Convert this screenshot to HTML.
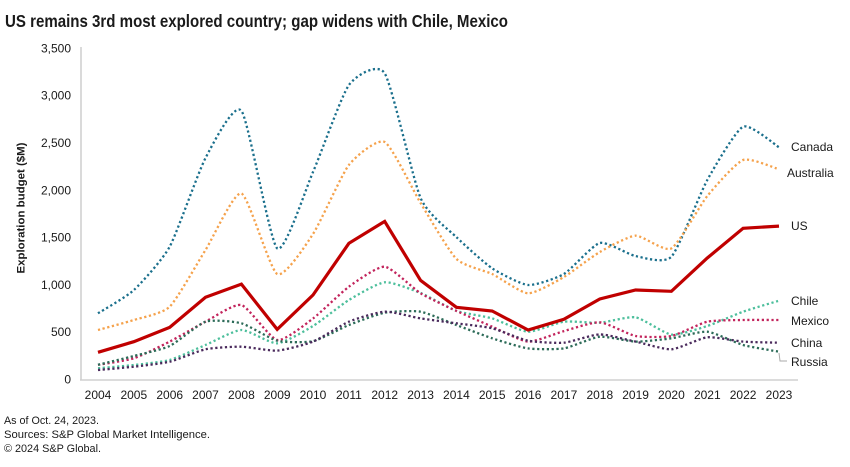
<!DOCTYPE html>
<html>
<head>
<meta charset="utf-8">
<style>
html,body{margin:0;padding:0;background:#fff;}
svg{display:block;}
text{font-family:"Liberation Sans",Arial,sans-serif;fill:#1a1a1a;}
</style>
</head>
<body>
<svg id="c" width="850" height="467" viewBox="0 0 850 467" xmlns="http://www.w3.org/2000/svg">
<rect width="850" height="467" fill="#fff"/>
<text x="5" y="27" font-size="17.5" font-weight="bold" textLength="503" lengthAdjust="spacingAndGlyphs">US remains 3rd most explored country; gap widens with Chile, Mexico</text>

<!-- axes -->
<line x1="81" y1="47" x2="81" y2="380" stroke="#d0d0d0" stroke-width="1.6"/>
<line x1="80" y1="380" x2="798" y2="380" stroke="#d0d0d0" stroke-width="1.6"/>

<!-- y tick labels -->
<g font-size="12" text-anchor="end">
<text x="71" y="383.5">0</text>
<text x="71" y="336.2">500</text>
<text x="71" y="288.9">1,000</text>
<text x="71" y="241.6">1,500</text>
<text x="71" y="194.3">2,000</text>
<text x="71" y="147">2,500</text>
<text x="71" y="99.7">3,000</text>
<text x="71" y="52.5">3,500</text>
</g>

<text transform="translate(24.5,208) rotate(-90)" font-size="11" font-weight="bold" text-anchor="middle" textLength="131" lengthAdjust="spacingAndGlyphs">Exploration budget ($M)</text>

<g id="xl" font-size="12" text-anchor="middle"></g>
<g id="series"></g>

<!-- Russia leader -->
<polyline points="779,353 780,361 787,361" fill="none" stroke="#aaaaaa" stroke-width="1"/>

<!-- legend labels -->
<g font-size="12">
<text x="791" y="151">Canada</text>
<text x="787" y="177">Australia</text>
<text x="791" y="230">US</text>
<text x="791" y="305">Chile</text>
<text x="791" y="325">Mexico</text>
<text x="791" y="347">China</text>
<text x="791" y="366">Russia</text>
</g>

<!-- footer -->
<g font-size="11">
<text x="4" y="424" textLength="95" lengthAdjust="spacingAndGlyphs">As of Oct. 24, 2023.</text>
<text x="4" y="438" textLength="206" lengthAdjust="spacingAndGlyphs">Sources: S&amp;P Global Market Intelligence.</text>
<text x="4" y="452" textLength="97" lengthAdjust="spacingAndGlyphs">© 2024 S&amp;P Global.</text>
</g>
</svg>
<script>
(function(){
var NS="http://www.w3.org/2000/svg";
function X(i){return 98+i*35.84;}
function Y(v){return 379-v*0.09457;}
var xl=document.getElementById('xl');
for(var i=0;i<20;i++){
  var t=document.createElementNS(NS,'text');
  t.setAttribute('x',X(i).toFixed(1));t.setAttribute('y','399');
  t.textContent=String(2004+i);xl.appendChild(t);
}
var data=[
 ["#1a6f8c",[695,940,1399,2337,2837,1381,2189,3108,3232,1914,1500,1170,994,1110,1438,1300,1293,2104,2668,2450],true],
 ["#f5a24c",[518,624,765,1364,1963,1110,1533,2263,2506,1861,1270,1110,906,1079,1343,1515,1381,1935,2316,2217],true],
 ["#4dbf9c",[113,148,201,360,518,377,560,835,1022,909,720,641,500,606,595,652,470,560,712,828],true],
 ["#c2245c",[150,219,395,606,782,412,640,976,1187,906,720,553,395,507,600,455,455,606,624,624],true],
 ["#2c6b58",[150,243,349,606,589,405,400,571,701,712,571,430,324,324,447,395,430,500,360,289],true],
 ["#4a2a5c",[95,130,183,314,342,300,395,606,712,641,589,536,405,384,472,395,314,441,395,384],true],
 ["#c00000",[282,394,546,864,1004,525,888,1435,1667,1043,758,719,518,631,846,941,927,1280,1593,1617],false]
];
var K=10;
var g=document.getElementById('series');
data.forEach(function(s){
  var v=s[1],pts=v.map(function(d,i){return [X(i),Y(d)];});
  var d="M"+pts[0][0].toFixed(1)+","+pts[0][1].toFixed(1);
  if(s[2]){
    for(var i=0;i<pts.length-1;i++){
      var p0=pts[i>0?i-1:i],p1=pts[i],p2=pts[i+1],p3=pts[i+2<pts.length?i+2:i+1];
      var c1x=p1[0]+(p2[0]-p0[0])/K,c1y=p1[1]+(p2[1]-p0[1])/K;
      var c2x=p2[0]-(p3[0]-p1[0])/K,c2y=p2[1]-(p3[1]-p1[1])/K;
      d+=" C"+c1x.toFixed(1)+","+c1y.toFixed(1)+" "+c2x.toFixed(1)+","+c2y.toFixed(1)+" "+p2[0].toFixed(1)+","+p2[1].toFixed(1);
    }
  } else {
    for(var i=1;i<pts.length;i++) d+=" L"+pts[i][0].toFixed(1)+","+pts[i][1].toFixed(1);
  }
  var p=document.createElementNS(NS,'path');
  p.setAttribute('d',d);p.setAttribute('fill','none');p.setAttribute('stroke',s[0]);
  if(s[2]){p.setAttribute('stroke-width','2.3');p.setAttribute('stroke-dasharray','2.2 2.6');}
  else{p.setAttribute('stroke-width','3.2');p.setAttribute('stroke-linejoin','miter');}
  g.appendChild(p);
});
})();
</script>
</body>
</html>
